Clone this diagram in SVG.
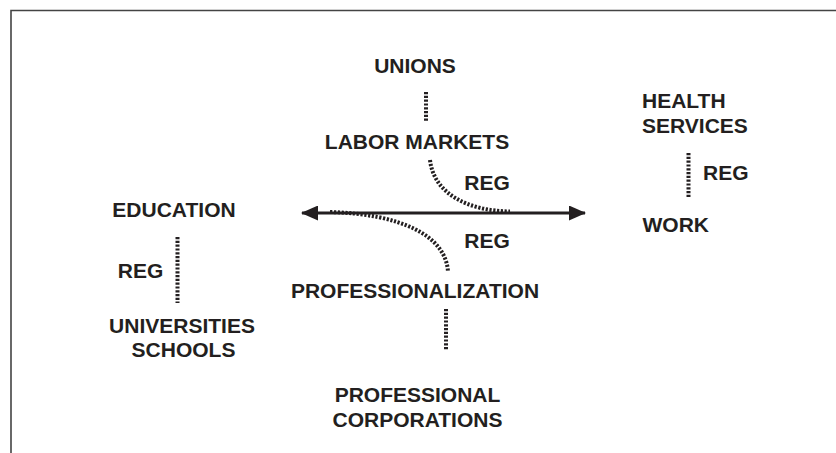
<svg xmlns="http://www.w3.org/2000/svg" width="836" height="453" viewBox="0 0 836 453">
<style>
text{font-family:"Liberation Sans",Arial,sans-serif;font-weight:bold;font-size:21px;fill:#231f20}
.m{text-anchor:middle}
.dot{fill:none;stroke:#231f20;stroke-width:4;stroke-dasharray:2.2 1.6}
</style>
<defs>
<marker id="ah" viewBox="0 0 17 15" refX="16" refY="7.5" markerWidth="17" markerHeight="15" markerUnits="userSpaceOnUse" orient="auto-start-reverse">
<path d="M0,0 L17,7.5 L0,15 Z" fill="#231f20"/>
</marker>
</defs>
<rect width="836" height="453" fill="#fff"/>
<path d="M11,453 V10.5 H836" fill="none" stroke="#444" stroke-width="1.6"/>
<g id="connectors">
<path class="dot" d="M426,92 V122"/>
<path class="dot" d="M430,160 C434,195 470,211 510,211.5"/>
<path class="dot" d="M330,212 C400,214 446,235 448,272"/>
<path class="dot" d="M446,309 V350"/>
<path class="dot" d="M177.5,237 V303"/>
<path class="dot" d="M688.5,153 V197"/>
<line x1="302" y1="213" x2="585" y2="213" stroke="#231f20" stroke-width="3.2" marker-start="url(#ah)" marker-end="url(#ah)"/>
</g>
<g id="unions"><text class="m" x="415" y="73">UNIONS</text></g>
<g id="labor-markets"><text class="m" x="417" y="149">LABOR MARKETS</text></g>
<g id="reg-upper"><text class="m" x="487" y="190">REG</text></g>
<g id="reg-lower"><text class="m" x="487" y="247.5">REG</text></g>
<g id="professionalization"><text class="m" x="415" y="298">PROFESSIONALIZATION</text></g>
<g id="professional-corporations"><text class="m" x="417.5" y="402">PROFESSIONAL</text><text class="m" x="417.5" y="427">CORPORATIONS</text></g>
<g id="education"><text class="m" x="174" y="216.5">EDUCATION</text></g>
<g id="reg-left"><text class="m" x="140.5" y="277.5">REG</text></g>
<g id="universities-schools"><text class="m" x="182" y="332.5">UNIVERSITIES</text><text class="m" x="183.5" y="356.5">SCHOOLS</text></g>
<g id="health-services"><text x="642" y="108">HEALTH</text><text x="642" y="133">SERVICES</text></g>
<g id="reg-right"><text x="703" y="180">REG</text></g>
<g id="work"><text x="642.5" y="231.5">WORK</text></g>
</svg>
